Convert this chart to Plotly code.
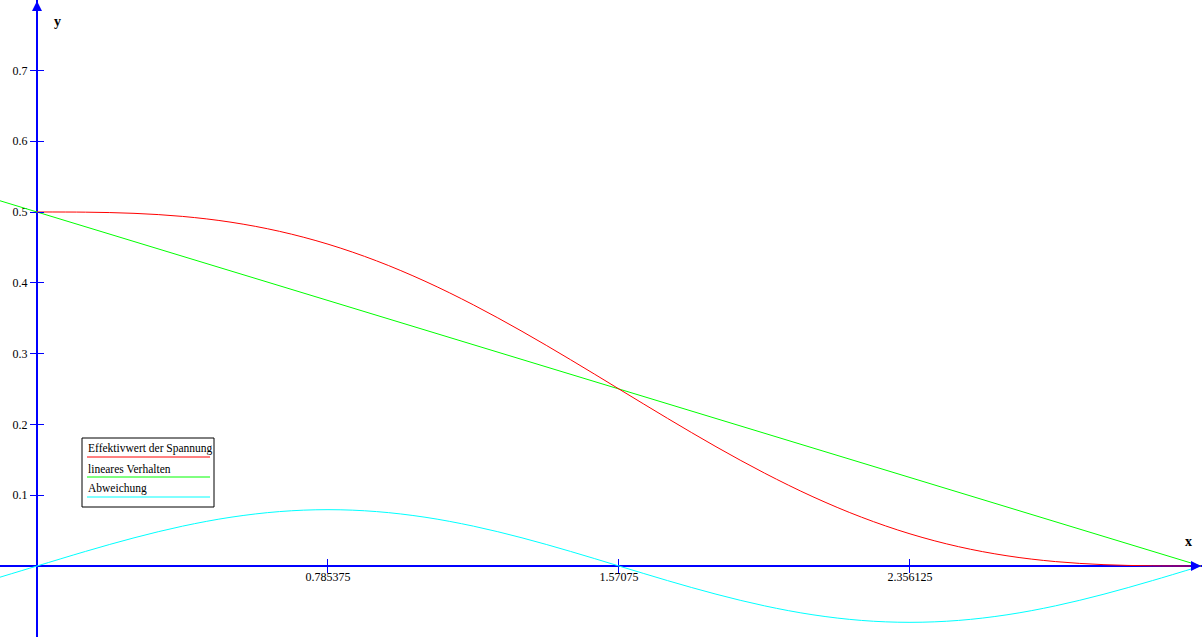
import plotly.graph_objects as go

# ---- data ----
x_vals = [0.0, 0.1309, 0.2618, 0.3927, 0.5236, 0.6545, 0.7854, 0.9163, 1.0472, 1.1781,
          1.3090, 1.4399, 1.5708, 1.7017, 1.8326, 1.9635, 2.0944, 2.2253, 2.3562, 2.4871,
          2.6180, 2.7489, 2.8798, 3.0107, 3.1416]
effektivwert = [0.5, 0.49976, 0.49812, 0.49377, 0.48558, 0.47270, 0.45458, 0.43103, 0.40225,
                0.36877, 0.33146, 0.29143, 0.25, 0.20857, 0.16854, 0.13123, 0.09775, 0.06897,
                0.04542, 0.02730, 0.01442, 0.00623, 0.00188, 0.00024, 0.0]
lin_x = [-0.0999, 3.1416]
lin_y = [0.5159, 0.0]
abw_x = [-0.0999] + x_vals
abw_y = [-0.0158, 0.0, 0.02060, 0.03979, 0.05627, 0.06892, 0.07687, 0.07958, 0.07687, 0.06892,
         0.05627, 0.03979, 0.02060, 0.0, -0.02060, -0.03979, -0.05627, -0.06892, -0.07687,
         -0.07958, -0.07687, -0.06892, -0.05627, -0.03979, -0.02060, 0.0]

x_tickvals = [0.785375, 1.57075, 2.356125]
x_ticktext = ["0.785375", "1.57075", "2.356125"]
y_tickvals = [0.1, 0.2, 0.3, 0.4, 0.5, 0.6, 0.7]
y_ticktext = ["0.1", "0.2", "0.3", "0.4", "0.5", "0.6", "0.7"]
legend_names = ["Effektivwert der Spannung", "lineares Verhalten", "Abweichung"]
legend_colors = ["#FF0000", "#00FF00", "#00FFFF"]

W, H = 1202, 637
x_range = [-0.09987, 3.14440]
y_range = [-0.10028, 0.79944]
xpos = 71 / H   # fraction where y=0
ypos = 37 / W   # fraction where x=0

FONT = "Liberation Serif, Times New Roman, serif"
BLUE = "#0000FF"

fig = go.Figure()
fig.add_trace(go.Scatter(x=lin_x, y=lin_y, mode="lines",
                         line=dict(color=legend_colors[1], width=1), name=legend_names[1]))
fig.add_trace(go.Scatter(x=abw_x, y=abw_y, mode="lines", line_shape="spline",
                         line=dict(color=legend_colors[2], width=1), name=legend_names[2]))
fig.add_trace(go.Scatter(x=x_vals, y=effektivwert, mode="lines", line_shape="spline",
                         line=dict(color=legend_colors[0], width=1), name=legend_names[0]))
# invisible trace to activate the secondary (tick-only) axes
fig.add_trace(go.Scatter(x=[None], y=[None], xaxis="x2", yaxis="y2", showlegend=False,
                         hoverinfo="skip"))

common = dict(showgrid=False, zeroline=False, automargin=False,
              tickfont=dict(family=FONT, size=12, color="black"),
              linecolor=BLUE, tickcolor=BLUE, tickwidth=1, ticklen=6)

fig.update_layout(
    width=W, height=H,
    margin=dict(l=0, r=0, t=0, b=0),
    paper_bgcolor="white", plot_bgcolor="white",
    showlegend=False,
    xaxis=dict(range=x_range, anchor="free", position=xpos, showline=True, linewidth=2,
               ticks="inside", tickmode="array", tickvals=x_tickvals, ticktext=x_ticktext,
               layer="below traces", **common),
    yaxis=dict(range=y_range, anchor="free", position=ypos, showline=True, linewidth=2,
               ticks="outside", tickmode="array", tickvals=y_tickvals, ticktext=y_ticktext,
               layer="below traces", **common),
    xaxis2=dict(range=x_range, overlaying="x", anchor="free", position=xpos, showline=False,
                ticks="outside", tickmode="array", tickvals=x_tickvals, showticklabels=False,
                **common),
    yaxis2=dict(range=y_range, overlaying="y", anchor="free", position=ypos, showline=False,
                ticks="inside", tickmode="array", tickvals=y_tickvals, showticklabels=False,
                **common),
)

def px(x):
    return x / W

def py(y):
    return 1 - y / H

annotations = [
    # axis arrows
    dict(x=px(1201), y=xpos, xref="paper", yref="paper", ax=-12, ay=0, text="",
         showarrow=True, arrowhead=2, arrowsize=1.0, arrowwidth=2, arrowcolor=BLUE),
    dict(x=ypos, y=py(1), xref="paper", yref="paper", ax=0, ay=12, text="",
         showarrow=True, arrowhead=2, arrowsize=1.0, arrowwidth=2, arrowcolor=BLUE),
    # axis titles
    dict(x=px(52), y=py(12), xref="paper", yref="paper", text="<b>y</b>", showarrow=False,
         font=dict(family=FONT, size=14, color="black")),
    dict(x=px(1194), y=py(551), xref="paper", yref="paper", text="<b>x</b>", showarrow=False,
         font=dict(family=FONT, size=14, color="black")),
]

shapes = [dict(type="rect", xref="paper", yref="paper", x0=px(82), x1=px(214),
               y0=py(507), y1=py(438), line=dict(color="black", width=1),
               fillcolor="white", layer="above")]
for i, (name, col) in enumerate(zip(legend_names, legend_colors)):
    line_y = 457 + 20 * i
    shapes.append(dict(type="line", xref="paper", yref="paper", x0=px(87), x1=px(210),
                       y0=py(line_y), y1=py(line_y), line=dict(color=col, width=1),
                       layer="above"))
    annotations.append(dict(x=px(86), y=py(line_y - 8.5), xref="paper", yref="paper",
                            text=name, showarrow=False, xanchor="left", yanchor="middle",
                            font=dict(family=FONT, size=11.5, color="black")))

fig.update_layout(annotations=annotations, shapes=shapes)
fig.write_html("out.html", post_script="document.body.style.margin='0';",
               config={"displayModeBar": False})
